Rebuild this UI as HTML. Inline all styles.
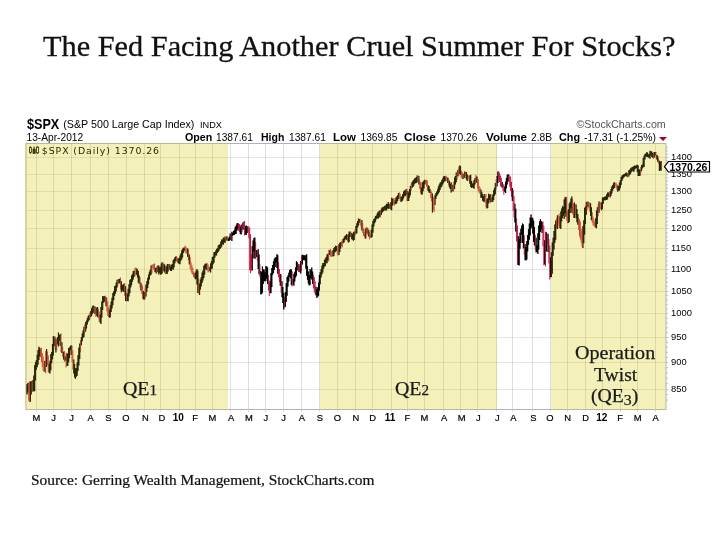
<!DOCTYPE html>
<html><head><meta charset="utf-8"><title>The Fed Facing Another Cruel Summer For Stocks?</title>
<style>
html,body{margin:0;padding:0;background:#fff}
#pg{will-change:transform;position:relative;width:720px;height:540px;overflow:hidden;background:#fff;font-family:"Liberation Sans",Arial,sans-serif;color:#000}
#pg span,#pg div{position:absolute;white-space:nowrap;line-height:1}
.ttl{left:43px;top:32.4px;font-family:"Liberation Serif",serif;font-size:28.8px;transform-origin:0 0;transform:scaleX(1.053);color:#111;-webkit-text-stroke:0.3px #111}
.src{left:31px;top:474px;font-family:"Liberation Serif",serif;font-size:14px;transform-origin:0 0;transform:scaleX(1.101);color:#111;-webkit-text-stroke:0.2px #111}
.band{top:143px;height:267px;background:rgba(215,205,25,0.30)}
.qe{font-family:"Liberation Serif",serif;font-size:18.4px;color:#1a1a1a;transform-origin:0 0;text-align:center;-webkit-text-stroke:0.25px #1a1a1a}
.qe small{font-size:0.76em}
.qe small.d3{font-size:0.8em;position:relative;top:0.19em}
.xl{top:413.2px;width:30px;text-align:center;font-size:9.4px;-webkit-text-stroke:0.2px #000}
.xl.b{-webkit-text-stroke:0;font-weight:bold;font-size:10px;top:412.7px}
.yl{left:671px;font-size:9.4px}
.h{font-size:10.2px}
.hb{font-size:10.5px;font-weight:bold;transform-origin:0 0}
.h{transform-origin:0 0}
</style></head><body>
<div id="pg">
<span class="ttl">The Fed Facing Another Cruel Summer For Stocks?</span>
<span style="left:26.5px;top:116.5px;font-size:14px;font-weight:bold;transform-origin:0 0;transform:scaleX(0.9)">$SPX</span>
<span style="left:63.3px;top:119px;font-size:10.7px">(S&amp;P 500 Large Cap Index)</span>
<span style="left:200px;top:120.5px;font-size:9.2px">INDX</span>
<span style="left:576.5px;top:118.5px;font-size:10.7px;color:#555">©StockCharts.com</span>
<span class="h" style="left:26.5px;top:132.5px">13-Apr-2012</span>
<span class="hb" style="left:184.5px;top:132px;transform:scaleX(1.02)">Open</span><span class="h" style="left:216px;top:132.5px">1387.61</span>
<span class="hb" style="left:261px;top:132px">High</span><span class="h" style="left:289px;top:132.5px">1387.61</span>
<span class="hb" style="left:332.7px;top:132px;transform:scaleX(1.09)">Low</span><span class="h" style="left:360.5px;top:132.5px">1369.85</span>
<span class="hb" style="left:404.4px;top:132px;transform:scaleX(1.11)">Close</span><span class="h" style="left:440.5px;top:132.5px">1370.26</span>
<span class="hb" style="left:485.6px;top:132px;transform:scaleX(1.105)">Volume</span><span class="h" style="left:531px;top:132.5px">2.8B</span>
<span class="hb" style="left:559px;top:132px;transform:scaleX(1.03)">Chg</span><span class="h" style="left:584px;top:132.5px;transform:scaleX(1.017)">-17.31 (-1.25%)</span>
<div style="left:658.5px;top:136.5px;width:0;height:0;border-left:4px solid transparent;border-right:4px solid transparent;border-top:4px solid #a0002c"></div>
<svg width="720" height="540" viewBox="0 0 720 540" style="position:absolute;left:0;top:0">
<rect x="26.0" y="143.5" width="640.0" height="266.0" fill="#fff"/>
<path d="M36.5 143.5V412.0M53.5 143.5V412.0M71.5 143.5V412.0M90.5 143.5V412.0M108.5 143.5V412.0M126.5 143.5V412.0M144.5 143.5V412.0M160.5 143.5V412.0M179.5 143.5V412.0M195.5 143.5V412.0M212.5 143.5V412.0M230.5 143.5V412.0M248.5 143.5V412.0M265.5 143.5V412.0M283.5 143.5V412.0M301.5 143.5V412.0M319.5 143.5V412.0M337.5 143.5V412.0M355.5 143.5V412.0M372.5 143.5V412.0M391.5 143.5V412.0M407.5 143.5V412.0M424.5 143.5V412.0M443.5 143.5V412.0M460.5 143.5V412.0M477.5 143.5V412.0M496.5 143.5V412.0M512.5 143.5V412.0M532.5 143.5V412.0M550.5 143.5V412.0M567.5 143.5V412.0M585.5 143.5V412.0M602.5 143.5V412.0M620.5 143.5V412.0M637.5 143.5V412.0M655.5 143.5V412.0" stroke="#000" stroke-opacity="0.125" stroke-width="1" fill="none"/>
<path d="M26.0 157.5H668.5M26.0 174.5H668.5M26.0 191.5H668.5M26.0 210.5H668.5M26.0 228.5H668.5M26.0 248.5H668.5M26.0 269.5H668.5M26.0 291.5H668.5M26.0 313.5H668.5M26.0 337.5H668.5M26.0 362.5H668.5M26.0 389.5H668.5" stroke="#000" stroke-opacity="0.105" stroke-width="1" fill="none"/>
<rect x="26.0" y="143.5" width="640.0" height="266.0" fill="none" stroke="#aeb2c0" stroke-width="1"/>
<path d="M666.0 400.1h2M666.0 394.5h2M666.0 389.5h2M666.0 383.6h2M666.0 378.2h2M666.0 372.9h2M666.0 367.7h2M666.0 362.5h2M666.0 357.4h2M666.0 352.3h2M666.0 347.3h2M666.0 342.3h2M666.0 337.5h2M666.0 332.6h2M666.0 327.8h2M666.0 323.0h2M666.0 318.3h2M666.0 313.5h2M666.0 309.0h2M666.0 304.4h2M666.0 299.9h2M666.0 295.4h2M666.0 291.5h2M666.0 286.6h2M666.0 282.2h2M666.0 277.9h2M666.0 273.6h2M666.0 269.5h2M666.0 265.2h2M666.0 261.0h2M666.0 256.9h2M666.0 252.8h2M666.0 248.5h2M666.0 244.8h2M666.0 240.8h2M666.0 236.8h2M666.0 232.9h2M666.0 228.5h2M666.0 225.2h2M666.0 221.4h2M666.0 217.6h2M666.0 213.8h2M666.0 210.5h2M666.0 206.4h2M666.0 202.7h2M666.0 199.1h2M666.0 195.5h2M666.0 191.5h2M666.0 188.3h2M666.0 184.8h2M666.0 181.3h2M666.0 177.8h2M666.0 174.5h2M666.0 171.0h2M666.0 167.6h2M666.0 164.2h2M666.0 160.8h2M666.0 157.5h2M666.0 154.2h2M666.0 150.9h2M666.0 147.7h2" stroke="#b9bdc9" stroke-width="1" fill="none"/>
<path d="M27.00 384.2V394.5M27.85 383.0V392.5M30.40 381.7V401.8M31.25 381.1V394.5M32.95 380.1V391.8M33.80 375.6V391.0M34.65 365.3V391.2M35.50 362.3V380.5M36.35 360.0V369.8M37.20 354.8V367.2M38.05 350.0V364.7M38.90 346.7V359.9M39.75 347.7V356.6M44.85 360.7V371.8M46.55 349.1V367.1M49.10 363.7V372.4M49.95 360.8V373.5M50.80 353.9V370.3M51.65 352.1V363.3M52.50 343.9V359.3M53.35 336.0V355.6M54.20 337.1V345.9M55.90 338.3V352.4M57.60 337.1V344.4M58.45 332.6V346.4M59.30 335.0V340.6M60.15 334.0V345.8M61.85 342.3V352.9M63.55 351.7V359.5M65.25 356.6V360.8M66.95 353.7V366.1M67.80 353.3V366.0M68.65 348.0V362.2M69.50 347.5V358.2M70.35 346.0V350.3M71.20 345.3V355.0M73.75 359.6V373.4M74.60 364.0V377.6M75.45 368.3V378.7M76.30 368.0V376.8M77.15 362.5V375.7M78.00 355.3V371.1M78.85 347.8V365.5M79.70 343.4V359.1M81.40 337.0V345.3M82.25 333.4V341.3M83.10 330.6V338.1M83.95 326.7V337.1M85.65 321.9V331.4M86.50 320.5V328.5M87.35 318.1V324.5M88.20 315.9V321.8M89.05 314.8V320.3M90.75 311.1V317.0M91.60 308.3V316.0M92.45 306.2V313.9M93.30 305.6V312.7M95.00 306.6V314.2M96.70 307.5V315.7M97.55 306.9V316.9M100.10 314.4V322.5M100.95 307.0V323.9M101.80 301.6V317.4M102.65 296.1V310.0M103.50 296.4V302.7M104.35 296.1V301.7M106.05 297.0V306.2M109.45 309.6V317.7M110.30 305.3V317.2M111.15 301.6V312.0M112.00 297.7V308.5M112.85 293.1V305.3M113.70 291.2V300.2M114.55 286.3V296.1M115.40 285.4V293.7M116.25 282.6V291.5M117.10 279.8V287.5M118.80 278.9V283.5M119.65 278.7V283.3M121.35 281.2V292.3M122.20 285.0V290.6M123.05 284.5V291.4M123.90 283.7V292.1M125.60 286.2V300.9M127.30 293.7V301.0M128.15 288.8V301.3M129.00 284.3V296.6M129.85 279.7V293.2M130.70 279.3V287.5M131.55 275.5V285.2M132.40 274.0V281.8M133.25 270.9V279.5M134.10 270.7V277.1M136.65 268.4V275.0M137.50 269.6V277.6M138.35 271.0V282.8M139.20 275.4V283.8M140.90 282.7V290.4M143.45 291.1V299.4M144.30 292.0V299.4M146.00 284.5V296.5M146.85 281.3V291.7M147.70 277.8V287.9M148.55 274.4V284.3M149.40 271.7V279.5M150.25 269.8V275.4M151.10 265.6V274.8M155.35 267.9V271.7M156.20 267.5V273.5M157.90 265.4V271.9M158.75 265.4V274.4M159.60 267.3V273.1M160.45 266.7V274.8M161.30 263.5V274.2M162.15 262.2V273.6M163.85 263.8V271.2M164.70 264.8V272.6M166.40 266.6V273.8M167.25 264.2V274.0M168.10 264.1V271.6M169.80 264.2V269.7M170.65 266.6V271.1M171.50 264.7V271.1M172.35 263.9V269.2M173.20 260.3V269.8M174.05 259.0V267.5M174.90 257.3V263.3M175.75 256.4V260.9M178.30 258.5V263.2M179.15 258.1V263.7M180.00 255.6V264.2M180.85 253.4V260.7M181.70 250.2V259.5M182.55 248.7V257.6M183.40 247.7V253.1M184.25 247.6V251.1M187.65 248.5V257.1M189.35 254.4V264.4M195.30 272.5V279.3M196.15 270.6V278.7M197.00 269.1V284.5M197.85 270.7V292.9M199.55 283.4V294.9M200.40 279.6V289.5M201.25 276.9V286.5M202.10 272.4V282.9M202.95 270.5V280.6M203.80 265.8V278.1M204.65 264.4V274.7M205.50 263.6V268.8M206.35 263.8V270.0M209.75 267.2V271.1M210.60 263.6V272.6M211.45 261.0V269.0M212.30 257.1V268.5M213.15 256.6V264.3M214.00 252.3V262.7M214.85 251.9V257.8M215.70 250.6V255.5M216.55 249.0V255.4M217.40 247.9V253.0M218.25 245.4V252.0M219.10 244.7V250.4M219.95 244.2V249.0M220.80 241.6V247.9M221.65 239.4V246.4M222.50 239.4V244.3M223.35 237.6V244.8M224.20 238.2V242.3M225.05 236.6V243.0M226.75 236.5V240.6M228.45 238.2V241.0M229.30 236.7V240.8M230.15 233.4V239.9M231.85 231.7V241.1M232.70 232.8V235.7M233.55 231.1V235.0M234.40 229.8V234.9M235.25 226.7V234.1M236.10 225.6V234.0M236.95 223.6V230.7M237.80 222.9V229.3M240.35 226.5V233.9M241.20 224.7V234.6M242.90 222.5V229.5M245.45 225.9V234.4M246.30 225.5V234.9M247.15 226.2V233.1M252.25 246.3V270.5M253.10 240.5V258.4M253.95 238.0V251.5M254.80 237.5V258.5M256.50 250.1V257.1M258.20 249.2V268.9M259.05 254.4V274.2M260.75 271.1V294.2M261.60 272.0V294.2M262.45 266.5V292.7M263.30 269.2V284.0M264.15 269.5V281.1M265.00 272.2V281.6M265.85 266.3V281.0M266.70 266.3V278.4M267.55 267.4V283.9M270.10 281.4V293.1M270.95 273.1V293.2M271.80 268.1V287.1M272.65 265.1V274.7M273.50 261.2V273.0M274.35 258.7V269.8M275.20 257.5V267.0M276.05 257.2V262.8M276.90 254.3V268.1M277.75 255.2V273.8M280.30 274.1V285.8M282.00 281.3V297.3M282.85 287.0V303.1M283.70 293.1V309.5M285.40 291.9V307.1M286.25 283.2V301.9M287.10 277.0V295.7M287.95 275.4V286.6M288.80 272.7V281.6M289.65 270.0V276.7M290.50 269.2V278.3M291.35 269.6V285.3M293.05 279.3V284.3M293.90 273.8V285.7M294.75 271.8V281.4M295.60 267.6V277.5M296.45 261.2V275.8M297.30 262.2V270.3M299.00 264.3V272.0M300.70 261.1V273.4M302.40 254.8V264.5M303.25 255.2V260.2M304.10 254.9V259.9M304.95 256.3V260.6M305.80 255.1V268.7M306.65 254.3V275.7M307.50 265.9V279.7M308.35 271.6V283.4M309.20 275.0V285.4M310.05 268.9V285.1M310.90 270.6V278.0M311.75 267.6V279.6M312.60 271.4V283.9M316.00 286.7V295.3M316.85 289.2V298.0M317.70 287.2V296.7M318.55 282.5V295.7M319.40 274.8V290.6M320.25 272.0V284.2M321.10 269.1V277.5M321.95 265.5V274.6M322.80 263.0V272.5M323.65 263.0V268.7M324.50 259.8V266.4M325.35 258.4V266.3M326.20 256.9V263.2M327.05 254.6V263.2M327.90 253.7V260.4M329.60 250.2V255.1M333.00 249.9V256.6M333.85 247.9V256.0M334.70 247.1V252.4M335.55 245.8V251.7M336.40 246.0V251.1M338.95 244.3V255.0M339.80 242.7V252.1M340.65 242.2V248.6M343.20 239.1V243.2M344.05 237.5V242.5M344.90 236.0V240.2M345.75 235.3V239.0M346.60 233.9V239.8M348.30 234.4V242.5M349.15 231.5V241.9M350.00 231.7V236.9M351.70 233.0V239.3M352.55 234.1V239.7M353.40 232.2V240.8M354.25 231.5V239.9M355.95 226.0V234.0M356.80 223.2V233.2M357.65 221.0V227.5M358.50 218.5V225.6M359.35 218.9V222.7M361.90 219.9V230.4M365.30 228.8V238.8M367.00 227.7V233.5M368.70 229.8V236.4M371.25 229.7V237.8M372.10 224.5V236.9M372.95 221.0V232.8M373.80 219.0V226.4M374.65 218.2V223.3M375.50 216.0V221.7M376.35 215.6V219.2M377.20 213.6V218.3M378.05 211.8V218.8M378.90 211.4V217.7M379.75 210.5V216.8M381.45 208.4V214.9M382.30 207.2V212.6M383.15 207.3V211.6M384.00 206.5V210.9M384.85 205.7V209.5M385.70 205.5V210.5M386.55 203.7V210.5M387.40 204.1V208.3M388.25 202.0V208.9M389.10 203.7V208.6M390.80 202.3V209.6M391.65 197.7V210.3M392.50 198.8V205.4M395.05 200.5V204.2M395.90 197.6V204.0M396.75 196.4V203.2M397.60 195.2V200.9M398.45 193.1V199.0M401.00 196.4V202.0M401.85 196.6V201.2M402.70 194.1V200.4M403.55 191.6V198.6M404.40 190.2V196.3M405.25 190.8V196.2M406.10 189.1V195.1M407.80 190.9V201.1M408.65 192.6V200.9M409.50 189.0V197.8M410.35 185.9V195.2M412.05 181.9V188.0M412.90 180.8V187.0M413.75 179.7V185.8M414.60 178.5V183.8M415.45 178.1V183.3M416.30 177.0V183.1M417.15 175.5V182.2M418.85 175.9V184.6M421.40 187.4V194.5M422.25 182.4V194.6M423.10 181.7V191.2M423.95 180.6V188.5M424.80 179.8V184.6M428.20 185.3V191.1M429.05 186.0V192.5M429.90 189.0V193.1M432.45 193.5V212.6M435.00 195.1V205.0M435.85 193.0V199.0M436.70 191.4V196.3M437.55 189.3V195.0M438.40 186.6V193.6M439.25 184.6V192.3M440.10 182.8V189.9M440.95 182.1V187.5M441.80 180.1V186.5M442.65 178.6V184.6M443.50 176.4V183.2M444.35 175.9V181.6M445.20 176.5V181.2M447.75 177.6V183.1M449.45 180.7V187.5M450.30 183.8V188.9M451.15 182.3V192.4M452.85 184.8V191.4M454.55 177.6V188.9M455.40 176.0V184.4M456.25 172.6V182.2M457.95 169.7V176.2M459.65 165.5V174.0M460.50 165.9V175.1M463.05 174.1V179.1M464.75 171.5V178.0M466.45 172.0V179.6M467.30 174.6V181.0M469.85 175.6V183.8M470.70 174.8V186.9M471.55 181.0V187.9M472.40 183.7V187.2M473.25 182.8V188.0M474.10 180.1V188.7M474.95 177.9V184.6M476.65 176.6V182.4M480.90 189.4V197.8M481.75 191.8V198.1M482.60 194.3V200.7M483.45 196.0V201.8M484.30 194.0V201.8M486.85 199.3V208.4M487.70 198.2V207.9M488.55 193.8V203.5M489.40 194.4V200.3M490.25 194.2V202.6M491.95 197.2V201.9M492.80 194.5V202.0M493.65 190.0V200.0M494.50 187.7V195.8M495.35 183.1V194.2M497.05 176.1V186.6M497.90 171.4V183.1M502.15 182.1V187.5M504.70 186.5V191.7M505.55 181.8V193.1M506.40 177.9V188.3M507.25 174.9V184.4M508.10 174.0V181.3M512.35 188.1V201.1M514.90 203.7V222.5M515.75 208.8V231.5M518.30 235.9V265.0M519.15 238.6V265.5M520.00 232.7V248.7M520.85 228.8V243.1M521.70 225.4V234.7M522.55 223.6V243.0M523.40 224.6V248.3M525.10 244.0V260.0M525.95 247.1V260.5M526.80 241.0V259.6M527.65 234.9V251.5M528.50 229.3V244.7M529.35 223.5V239.8M530.20 217.5V235.6M531.05 214.6V228.6M531.90 217.9V226.4M532.75 217.7V233.6M533.60 220.4V242.0M534.45 226.9V245.5M536.15 237.7V252.6M537.00 245.4V251.7M537.85 233.3V254.1M538.70 225.5V249.4M539.55 221.6V240.0M540.40 219.3V232.1M541.25 221.0V229.5M542.10 222.0V232.9M544.65 240.2V264.5M546.35 232.2V251.5M548.05 233.8V252.0M550.60 257.2V277.3M551.45 252.2V277.0M552.30 242.5V273.8M553.15 237.7V255.7M554.00 231.0V249.5M554.85 224.4V242.8M555.70 220.6V239.7M557.40 215.3V229.1M559.95 216.5V228.0M560.80 211.4V228.9M561.65 208.5V221.4M562.50 206.3V218.1M563.35 206.7V215.8M564.20 199.4V219.0M565.05 197.1V213.6M565.90 197.5V216.7M568.45 209.3V223.1M569.30 203.6V221.7M570.15 201.7V213.0M571.00 198.5V208.3M571.85 196.6V212.7M574.40 202.4V218.0M576.10 204.5V218.2M576.95 209.0V222.2M577.80 213.9V224.7M582.90 226.0V248.1M583.75 220.2V243.3M584.60 207.7V234.7M585.45 206.6V223.9M586.30 202.0V214.7M588.00 201.7V206.9M590.55 203.2V215.9M591.40 207.3V220.2M595.65 218.3V227.6M596.50 210.4V228.3M597.35 207.3V224.1M599.05 201.6V212.8M601.60 202.6V210.2M602.45 197.6V209.1M603.30 197.5V203.7M604.15 197.0V199.9M605.00 196.4V200.5M605.85 196.2V199.9M606.70 194.3V200.1M607.55 192.4V199.3M608.40 192.4V197.0M610.10 191.3V197.4M610.95 189.2V196.0M611.80 186.6V193.5M612.65 184.9V190.9M613.50 183.3V189.1M614.35 182.1V188.0M617.75 185.4V191.7M618.60 185.7V190.7M619.45 182.6V190.4M620.30 180.2V188.2M621.15 177.1V185.1M622.00 175.5V181.1M622.85 175.1V178.9M623.70 174.0V177.6M624.55 173.9V176.8M625.40 172.9V175.9M626.25 172.5V176.3M627.10 173.6V176.8M628.80 170.3V176.5M629.65 169.8V174.9M630.50 168.6V174.0M631.35 167.7V172.2M632.20 166.9V170.5M633.05 166.8V171.4M633.90 166.0V171.8M634.75 165.5V169.4M635.60 165.8V168.6M636.45 165.3V168.1M637.30 164.8V171.9M638.15 165.6V175.9M639.00 169.7V176.1M639.85 169.3V175.9M641.55 165.0V171.3M642.40 164.5V168.5M643.25 157.9V167.2M644.10 155.7V166.9M644.95 153.9V159.5M645.80 153.4V156.6M646.65 152.2V156.8M647.50 152.5V157.0M648.35 154.5V157.5M649.20 153.7V157.7M650.05 150.8V158.7M650.90 151.3V155.1M651.75 151.4V157.0M652.60 152.9V157.7M654.30 152.3V157.6M655.15 151.9V155.5M656.85 155.1V159.5M657.70 155.8V161.7M659.40 160.7V171.0M660.25 161.7V170.2M661.10 160.9V170.8" stroke="#050505" stroke-width="1.15" fill="none"/><path d="M28.70 382.2V400.8M29.55 381.4V402.1M32.10 380.9V390.1M40.60 348.7V357.0M41.45 347.7V362.1M42.30 353.0V367.1M43.15 356.3V370.9M44.00 362.4V371.8M45.70 350.9V373.3M47.40 351.4V365.0M48.25 355.3V372.2M55.05 336.0V349.6M56.75 339.9V350.2M61.00 333.3V352.1M62.70 346.9V356.9M64.40 351.0V361.9M66.10 352.6V367.6M72.05 345.7V362.2M72.90 350.3V369.6M80.55 340.1V352.4M84.80 324.1V333.4M89.90 312.4V319.4M94.15 305.9V312.7M95.85 310.3V317.0M98.40 308.8V318.5M99.25 311.6V321.8M105.20 295.6V302.9M106.90 298.1V311.5M107.75 301.6V316.0M108.60 307.3V317.0M117.95 279.6V285.5M120.50 277.5V289.5M124.75 283.1V295.9M126.45 292.4V301.7M134.95 267.8V276.4M135.80 267.7V274.8M140.05 277.2V287.7M141.75 284.1V294.1M142.60 285.5V298.7M145.15 287.4V299.4M151.95 264.8V273.4M152.80 264.5V268.4M153.65 264.0V269.9M154.50 263.4V272.3M157.05 266.0V272.7M163.00 262.5V268.7M165.55 266.3V274.2M168.95 264.2V268.7M176.60 256.1V261.7M177.45 257.6V262.4M185.10 245.5V252.6M185.95 246.7V253.3M186.80 248.0V253.8M188.50 249.2V260.5M190.20 257.2V269.0M191.05 262.4V271.5M191.90 264.9V273.7M192.75 267.5V274.7M193.60 271.5V277.1M194.45 273.0V278.0M198.70 278.7V293.8M207.20 262.8V270.7M208.05 264.2V272.5M208.90 266.2V271.9M225.90 236.8V241.2M227.60 236.5V240.8M231.00 234.8V239.3M238.65 223.7V230.8M239.50 224.1V232.0M242.05 223.9V232.4M243.75 221.5V230.0M244.60 221.0V235.5M248.00 226.8V231.6M248.85 226.3V238.4M249.70 227.7V270.3M250.55 234.2V273.3M251.40 254.5V270.5M255.65 242.0V259.0M257.35 250.5V260.5M259.90 264.2V276.7M268.40 274.9V290.5M269.25 280.4V296.1M278.60 262.4V277.4M279.45 269.0V282.2M281.15 274.6V292.6M284.55 297.1V307.4M292.20 271.5V286.4M298.15 263.9V270.6M299.85 266.3V272.3M301.55 255.3V271.1M313.45 274.7V288.4M314.30 277.0V292.3M315.15 281.2V294.2M328.75 249.8V261.4M330.45 248.8V256.5M331.30 250.6V256.8M332.15 252.0V256.5M337.25 245.6V254.6M338.10 247.7V255.7M341.50 241.2V246.1M342.35 239.3V247.4M347.45 235.1V241.2M350.85 231.5V237.3M355.10 229.1V235.8M360.20 218.7V225.2M361.05 220.0V227.3M362.75 223.2V233.2M363.60 228.4V236.0M364.45 232.4V236.9M366.15 227.1V238.3M367.85 227.8V235.3M369.55 231.9V239.3M370.40 234.6V237.7M380.60 210.1V217.3M389.95 203.7V209.0M393.35 197.9V204.6M394.20 198.4V205.8M399.30 192.3V198.9M400.15 193.7V200.9M406.95 188.9V201.3M411.20 183.7V190.9M418.00 175.4V180.8M419.70 179.8V189.0M420.55 182.2V193.1M425.65 180.1V183.5M426.50 179.9V186.3M427.35 180.5V190.4M430.75 190.2V198.2M431.60 191.7V201.3M433.30 197.3V210.2M434.15 196.6V212.0M446.05 175.6V180.7M446.90 176.9V181.2M448.60 178.3V185.4M452.00 188.0V190.6M453.70 181.7V191.3M457.10 171.4V180.0M458.80 166.6V176.4M461.35 170.5V177.7M462.20 171.9V179.1M463.90 173.1V178.5M465.60 172.1V176.0M468.15 175.9V178.8M469.00 175.3V181.0M475.80 174.6V182.7M477.50 176.6V188.5M478.35 179.2V191.3M479.20 186.1V192.8M480.05 187.4V194.2M485.15 194.6V202.9M486.00 194.0V207.4M491.10 194.1V202.1M496.20 179.0V189.7M498.75 171.3V179.3M499.60 172.9V182.0M500.45 175.5V186.3M501.30 177.8V187.2M503.00 185.0V190.8M503.85 184.1V194.7M508.95 174.6V182.0M509.80 175.5V186.8M510.65 176.8V191.1M511.50 181.9V196.8M513.20 189.7V210.8M514.05 195.8V217.5M516.60 218.4V241.5M517.45 225.3V264.9M524.25 235.3V254.6M535.30 234.9V250.0M542.95 221.4V246.5M543.80 225.6V265.2M545.50 231.7V266.4M547.20 234.3V244.0M548.90 238.9V263.6M549.75 245.5V279.5M556.55 218.4V228.7M558.25 215.8V224.8M559.10 213.6V228.4M566.75 196.6V220.8M567.60 210.9V223.3M572.70 199.4V214.5M573.55 203.6V218.0M575.25 203.9V214.4M578.65 217.6V230.0M579.50 219.1V236.7M580.35 221.5V239.6M581.20 228.8V242.9M582.05 231.1V246.6M587.15 201.2V210.1M588.85 202.9V208.4M589.70 202.2V211.6M592.25 212.1V222.7M593.10 216.7V225.7M593.95 219.4V225.5M594.80 221.6V227.2M598.20 204.1V216.1M599.90 201.7V208.4M600.75 202.1V209.5M609.25 192.0V196.5M615.20 183.2V185.8M616.05 182.5V188.3M616.90 184.1V190.2M627.95 172.3V177.4M640.70 166.9V175.2M653.45 152.1V158.8M656.00 151.9V157.7M658.55 158.5V163.7" stroke="#c4103c" stroke-width="1.0" fill="none"/>
</svg>
<svg width="12" height="10" viewBox="0 0 12 10" style="position:absolute;left:28px;top:145px"><path d="M2.400 1.200V8.800M6.100 1.500V8.800M9.500 1.200V8.800" stroke="#000" stroke-width="1.1" fill="none"/><rect x="1.500" y="2.600" width="1.900" height="4.800" fill="#fff" stroke="#000" stroke-width="0.9"/><rect x="4.900" y="4" width="2.400" height="4.600" fill="#000" stroke="#000" stroke-width="0.6"/><rect x="8.400" y="2.200" width="2.200" height="5.600" fill="#fff" stroke="#000" stroke-width="0.9"/></svg>
<div class="band" style="left:25.0px;width:203.0px"></div><div class="band" style="left:319.6px;width:177.2px"></div><div class="band" style="left:550.8px;width:115.70000000000005px"></div>
<svg width="720" height="540" viewBox="0 0 720 540" style="position:absolute;left:0;top:0;opacity:0.42"><path d="M27.00 384.2V394.5M27.85 383.0V392.5M30.40 381.7V401.8M31.25 381.1V394.5M32.95 380.1V391.8M33.80 375.6V391.0M34.65 365.3V391.2M35.50 362.3V380.5M36.35 360.0V369.8M37.20 354.8V367.2M38.05 350.0V364.7M38.90 346.7V359.9M39.75 347.7V356.6M44.85 360.7V371.8M46.55 349.1V367.1M49.10 363.7V372.4M49.95 360.8V373.5M50.80 353.9V370.3M51.65 352.1V363.3M52.50 343.9V359.3M53.35 336.0V355.6M54.20 337.1V345.9M55.90 338.3V352.4M57.60 337.1V344.4M58.45 332.6V346.4M59.30 335.0V340.6M60.15 334.0V345.8M61.85 342.3V352.9M63.55 351.7V359.5M65.25 356.6V360.8M66.95 353.7V366.1M67.80 353.3V366.0M68.65 348.0V362.2M69.50 347.5V358.2M70.35 346.0V350.3M71.20 345.3V355.0M73.75 359.6V373.4M74.60 364.0V377.6M75.45 368.3V378.7M76.30 368.0V376.8M77.15 362.5V375.7M78.00 355.3V371.1M78.85 347.8V365.5M79.70 343.4V359.1M81.40 337.0V345.3M82.25 333.4V341.3M83.10 330.6V338.1M83.95 326.7V337.1M85.65 321.9V331.4M86.50 320.5V328.5M87.35 318.1V324.5M88.20 315.9V321.8M89.05 314.8V320.3M90.75 311.1V317.0M91.60 308.3V316.0M92.45 306.2V313.9M93.30 305.6V312.7M95.00 306.6V314.2M96.70 307.5V315.7M97.55 306.9V316.9M100.10 314.4V322.5M100.95 307.0V323.9M101.80 301.6V317.4M102.65 296.1V310.0M103.50 296.4V302.7M104.35 296.1V301.7M106.05 297.0V306.2M109.45 309.6V317.7M110.30 305.3V317.2M111.15 301.6V312.0M112.00 297.7V308.5M112.85 293.1V305.3M113.70 291.2V300.2M114.55 286.3V296.1M115.40 285.4V293.7M116.25 282.6V291.5M117.10 279.8V287.5M118.80 278.9V283.5M119.65 278.7V283.3M121.35 281.2V292.3M122.20 285.0V290.6M123.05 284.5V291.4M123.90 283.7V292.1M125.60 286.2V300.9M127.30 293.7V301.0M128.15 288.8V301.3M129.00 284.3V296.6M129.85 279.7V293.2M130.70 279.3V287.5M131.55 275.5V285.2M132.40 274.0V281.8M133.25 270.9V279.5M134.10 270.7V277.1M136.65 268.4V275.0M137.50 269.6V277.6M138.35 271.0V282.8M139.20 275.4V283.8M140.90 282.7V290.4M143.45 291.1V299.4M144.30 292.0V299.4M146.00 284.5V296.5M146.85 281.3V291.7M147.70 277.8V287.9M148.55 274.4V284.3M149.40 271.7V279.5M150.25 269.8V275.4M151.10 265.6V274.8M155.35 267.9V271.7M156.20 267.5V273.5M157.90 265.4V271.9M158.75 265.4V274.4M159.60 267.3V273.1M160.45 266.7V274.8M161.30 263.5V274.2M162.15 262.2V273.6M163.85 263.8V271.2M164.70 264.8V272.6M166.40 266.6V273.8M167.25 264.2V274.0M168.10 264.1V271.6M169.80 264.2V269.7M170.65 266.6V271.1M171.50 264.7V271.1M172.35 263.9V269.2M173.20 260.3V269.8M174.05 259.0V267.5M174.90 257.3V263.3M175.75 256.4V260.9M178.30 258.5V263.2M179.15 258.1V263.7M180.00 255.6V264.2M180.85 253.4V260.7M181.70 250.2V259.5M182.55 248.7V257.6M183.40 247.7V253.1M184.25 247.6V251.1M187.65 248.5V257.1M189.35 254.4V264.4M195.30 272.5V279.3M196.15 270.6V278.7M197.00 269.1V284.5M197.85 270.7V292.9M199.55 283.4V294.9M200.40 279.6V289.5M201.25 276.9V286.5M202.10 272.4V282.9M202.95 270.5V280.6M203.80 265.8V278.1M204.65 264.4V274.7M205.50 263.6V268.8M206.35 263.8V270.0M209.75 267.2V271.1M210.60 263.6V272.6M211.45 261.0V269.0M212.30 257.1V268.5M213.15 256.6V264.3M214.00 252.3V262.7M214.85 251.9V257.8M215.70 250.6V255.5M216.55 249.0V255.4M217.40 247.9V253.0M218.25 245.4V252.0M219.10 244.7V250.4M219.95 244.2V249.0M220.80 241.6V247.9M221.65 239.4V246.4M222.50 239.4V244.3M223.35 237.6V244.8M224.20 238.2V242.3M225.05 236.6V243.0M226.75 236.5V240.6M228.45 238.2V241.0M229.30 236.7V240.8M230.15 233.4V239.9M231.85 231.7V241.1M232.70 232.8V235.7M233.55 231.1V235.0M234.40 229.8V234.9M235.25 226.7V234.1M236.10 225.6V234.0M236.95 223.6V230.7M237.80 222.9V229.3M240.35 226.5V233.9M241.20 224.7V234.6M242.90 222.5V229.5M245.45 225.9V234.4M246.30 225.5V234.9M247.15 226.2V233.1M252.25 246.3V270.5M253.10 240.5V258.4M253.95 238.0V251.5M254.80 237.5V258.5M256.50 250.1V257.1M258.20 249.2V268.9M259.05 254.4V274.2M260.75 271.1V294.2M261.60 272.0V294.2M262.45 266.5V292.7M263.30 269.2V284.0M264.15 269.5V281.1M265.00 272.2V281.6M265.85 266.3V281.0M266.70 266.3V278.4M267.55 267.4V283.9M270.10 281.4V293.1M270.95 273.1V293.2M271.80 268.1V287.1M272.65 265.1V274.7M273.50 261.2V273.0M274.35 258.7V269.8M275.20 257.5V267.0M276.05 257.2V262.8M276.90 254.3V268.1M277.75 255.2V273.8M280.30 274.1V285.8M282.00 281.3V297.3M282.85 287.0V303.1M283.70 293.1V309.5M285.40 291.9V307.1M286.25 283.2V301.9M287.10 277.0V295.7M287.95 275.4V286.6M288.80 272.7V281.6M289.65 270.0V276.7M290.50 269.2V278.3M291.35 269.6V285.3M293.05 279.3V284.3M293.90 273.8V285.7M294.75 271.8V281.4M295.60 267.6V277.5M296.45 261.2V275.8M297.30 262.2V270.3M299.00 264.3V272.0M300.70 261.1V273.4M302.40 254.8V264.5M303.25 255.2V260.2M304.10 254.9V259.9M304.95 256.3V260.6M305.80 255.1V268.7M306.65 254.3V275.7M307.50 265.9V279.7M308.35 271.6V283.4M309.20 275.0V285.4M310.05 268.9V285.1M310.90 270.6V278.0M311.75 267.6V279.6M312.60 271.4V283.9M316.00 286.7V295.3M316.85 289.2V298.0M317.70 287.2V296.7M318.55 282.5V295.7M319.40 274.8V290.6M320.25 272.0V284.2M321.10 269.1V277.5M321.95 265.5V274.6M322.80 263.0V272.5M323.65 263.0V268.7M324.50 259.8V266.4M325.35 258.4V266.3M326.20 256.9V263.2M327.05 254.6V263.2M327.90 253.7V260.4M329.60 250.2V255.1M333.00 249.9V256.6M333.85 247.9V256.0M334.70 247.1V252.4M335.55 245.8V251.7M336.40 246.0V251.1M338.95 244.3V255.0M339.80 242.7V252.1M340.65 242.2V248.6M343.20 239.1V243.2M344.05 237.5V242.5M344.90 236.0V240.2M345.75 235.3V239.0M346.60 233.9V239.8M348.30 234.4V242.5M349.15 231.5V241.9M350.00 231.7V236.9M351.70 233.0V239.3M352.55 234.1V239.7M353.40 232.2V240.8M354.25 231.5V239.9M355.95 226.0V234.0M356.80 223.2V233.2M357.65 221.0V227.5M358.50 218.5V225.6M359.35 218.9V222.7M361.90 219.9V230.4M365.30 228.8V238.8M367.00 227.7V233.5M368.70 229.8V236.4M371.25 229.7V237.8M372.10 224.5V236.9M372.95 221.0V232.8M373.80 219.0V226.4M374.65 218.2V223.3M375.50 216.0V221.7M376.35 215.6V219.2M377.20 213.6V218.3M378.05 211.8V218.8M378.90 211.4V217.7M379.75 210.5V216.8M381.45 208.4V214.9M382.30 207.2V212.6M383.15 207.3V211.6M384.00 206.5V210.9M384.85 205.7V209.5M385.70 205.5V210.5M386.55 203.7V210.5M387.40 204.1V208.3M388.25 202.0V208.9M389.10 203.7V208.6M390.80 202.3V209.6M391.65 197.7V210.3M392.50 198.8V205.4M395.05 200.5V204.2M395.90 197.6V204.0M396.75 196.4V203.2M397.60 195.2V200.9M398.45 193.1V199.0M401.00 196.4V202.0M401.85 196.6V201.2M402.70 194.1V200.4M403.55 191.6V198.6M404.40 190.2V196.3M405.25 190.8V196.2M406.10 189.1V195.1M407.80 190.9V201.1M408.65 192.6V200.9M409.50 189.0V197.8M410.35 185.9V195.2M412.05 181.9V188.0M412.90 180.8V187.0M413.75 179.7V185.8M414.60 178.5V183.8M415.45 178.1V183.3M416.30 177.0V183.1M417.15 175.5V182.2M418.85 175.9V184.6M421.40 187.4V194.5M422.25 182.4V194.6M423.10 181.7V191.2M423.95 180.6V188.5M424.80 179.8V184.6M428.20 185.3V191.1M429.05 186.0V192.5M429.90 189.0V193.1M432.45 193.5V212.6M435.00 195.1V205.0M435.85 193.0V199.0M436.70 191.4V196.3M437.55 189.3V195.0M438.40 186.6V193.6M439.25 184.6V192.3M440.10 182.8V189.9M440.95 182.1V187.5M441.80 180.1V186.5M442.65 178.6V184.6M443.50 176.4V183.2M444.35 175.9V181.6M445.20 176.5V181.2M447.75 177.6V183.1M449.45 180.7V187.5M450.30 183.8V188.9M451.15 182.3V192.4M452.85 184.8V191.4M454.55 177.6V188.9M455.40 176.0V184.4M456.25 172.6V182.2M457.95 169.7V176.2M459.65 165.5V174.0M460.50 165.9V175.1M463.05 174.1V179.1M464.75 171.5V178.0M466.45 172.0V179.6M467.30 174.6V181.0M469.85 175.6V183.8M470.70 174.8V186.9M471.55 181.0V187.9M472.40 183.7V187.2M473.25 182.8V188.0M474.10 180.1V188.7M474.95 177.9V184.6M476.65 176.6V182.4M480.90 189.4V197.8M481.75 191.8V198.1M482.60 194.3V200.7M483.45 196.0V201.8M484.30 194.0V201.8M486.85 199.3V208.4M487.70 198.2V207.9M488.55 193.8V203.5M489.40 194.4V200.3M490.25 194.2V202.6M491.95 197.2V201.9M492.80 194.5V202.0M493.65 190.0V200.0M494.50 187.7V195.8M495.35 183.1V194.2M497.05 176.1V186.6M497.90 171.4V183.1M502.15 182.1V187.5M504.70 186.5V191.7M505.55 181.8V193.1M506.40 177.9V188.3M507.25 174.9V184.4M508.10 174.0V181.3M512.35 188.1V201.1M514.90 203.7V222.5M515.75 208.8V231.5M518.30 235.9V265.0M519.15 238.6V265.5M520.00 232.7V248.7M520.85 228.8V243.1M521.70 225.4V234.7M522.55 223.6V243.0M523.40 224.6V248.3M525.10 244.0V260.0M525.95 247.1V260.5M526.80 241.0V259.6M527.65 234.9V251.5M528.50 229.3V244.7M529.35 223.5V239.8M530.20 217.5V235.6M531.05 214.6V228.6M531.90 217.9V226.4M532.75 217.7V233.6M533.60 220.4V242.0M534.45 226.9V245.5M536.15 237.7V252.6M537.00 245.4V251.7M537.85 233.3V254.1M538.70 225.5V249.4M539.55 221.6V240.0M540.40 219.3V232.1M541.25 221.0V229.5M542.10 222.0V232.9M544.65 240.2V264.5M546.35 232.2V251.5M548.05 233.8V252.0M550.60 257.2V277.3M551.45 252.2V277.0M552.30 242.5V273.8M553.15 237.7V255.7M554.00 231.0V249.5M554.85 224.4V242.8M555.70 220.6V239.7M557.40 215.3V229.1M559.95 216.5V228.0M560.80 211.4V228.9M561.65 208.5V221.4M562.50 206.3V218.1M563.35 206.7V215.8M564.20 199.4V219.0M565.05 197.1V213.6M565.90 197.5V216.7M568.45 209.3V223.1M569.30 203.6V221.7M570.15 201.7V213.0M571.00 198.5V208.3M571.85 196.6V212.7M574.40 202.4V218.0M576.10 204.5V218.2M576.95 209.0V222.2M577.80 213.9V224.7M582.90 226.0V248.1M583.75 220.2V243.3M584.60 207.7V234.7M585.45 206.6V223.9M586.30 202.0V214.7M588.00 201.7V206.9M590.55 203.2V215.9M591.40 207.3V220.2M595.65 218.3V227.6M596.50 210.4V228.3M597.35 207.3V224.1M599.05 201.6V212.8M601.60 202.6V210.2M602.45 197.6V209.1M603.30 197.5V203.7M604.15 197.0V199.9M605.00 196.4V200.5M605.85 196.2V199.9M606.70 194.3V200.1M607.55 192.4V199.3M608.40 192.4V197.0M610.10 191.3V197.4M610.95 189.2V196.0M611.80 186.6V193.5M612.65 184.9V190.9M613.50 183.3V189.1M614.35 182.1V188.0M617.75 185.4V191.7M618.60 185.7V190.7M619.45 182.6V190.4M620.30 180.2V188.2M621.15 177.1V185.1M622.00 175.5V181.1M622.85 175.1V178.9M623.70 174.0V177.6M624.55 173.9V176.8M625.40 172.9V175.9M626.25 172.5V176.3M627.10 173.6V176.8M628.80 170.3V176.5M629.65 169.8V174.9M630.50 168.6V174.0M631.35 167.7V172.2M632.20 166.9V170.5M633.05 166.8V171.4M633.90 166.0V171.8M634.75 165.5V169.4M635.60 165.8V168.6M636.45 165.3V168.1M637.30 164.8V171.9M638.15 165.6V175.9M639.00 169.7V176.1M639.85 169.3V175.9M641.55 165.0V171.3M642.40 164.5V168.5M643.25 157.9V167.2M644.10 155.7V166.9M644.95 153.9V159.5M645.80 153.4V156.6M646.65 152.2V156.8M647.50 152.5V157.0M648.35 154.5V157.5M649.20 153.7V157.7M650.05 150.8V158.7M650.90 151.3V155.1M651.75 151.4V157.0M652.60 152.9V157.7M654.30 152.3V157.6M655.15 151.9V155.5M656.85 155.1V159.5M657.70 155.8V161.7M659.40 160.7V171.0M660.25 161.7V170.2M661.10 160.9V170.8" stroke="#050505" stroke-width="1.15" fill="none"/></svg>
<span style="left:41.800px;top:146.400px;font-family:'DejaVu Sans',sans-serif;font-size:9.4px;letter-spacing:0.92px;color:#2b2905">$SPX (Daily) 1370.26</span>
<div class="qe" style="left:123px;top:379.5px;transform:scaleX(1.08)">QE<small>1</small></div>
<div class="qe" style="left:394.5px;top:379.5px;transform:scaleX(1.08)">QE<small>2</small></div>
<div class="qe" style="left:574.5px;top:344px;transform:scaleX(1.09)">Operation</div>
<div class="qe" style="left:593.9px;top:365.5px;transform:scaleX(1.065)">Twist</div>
<div class="qe" style="left:591.3px;top:387.3px;transform:scaleX(1.07)">(QE<small class="d3">3</small>)</div>
<span class="xl" style="left:21.5px">M</span><span class="xl" style="left:38.5px">J</span><span class="xl" style="left:56.7px">J</span><span class="xl" style="left:75.7px">A</span><span class="xl" style="left:93.3px">S</span><span class="xl" style="left:111.0px">O</span><span class="xl" style="left:130.5px">N</span><span class="xl" style="left:147.0px">D</span><span class="xl b" style="left:163.3px">10</span><span class="xl" style="left:180.0px">F</span><span class="xl" style="left:197.3px">M</span><span class="xl" style="left:216.2px">A</span><span class="xl" style="left:234.0px">M</span><span class="xl" style="left:250.8px">J</span><span class="xl" style="left:268.6px">J</span><span class="xl" style="left:287.0px">A</span><span class="xl" style="left:304.9px">S</span><span class="xl" style="left:322.3px">O</span><span class="xl" style="left:341.0px">N</span><span class="xl" style="left:357.7px">D</span><span class="xl b" style="left:375.0px">11</span><span class="xl" style="left:392.3px">F</span><span class="xl" style="left:409.3px">M</span><span class="xl" style="left:429.2px">A</span><span class="xl" style="left:446.7px">M</span><span class="xl" style="left:463.3px">J</span><span class="xl" style="left:482.3px">J</span><span class="xl" style="left:498.3px">A</span><span class="xl" style="left:518.3px">S</span><span class="xl" style="left:535.0px">O</span><span class="xl" style="left:552.7px">N</span><span class="xl" style="left:570.7px">D</span><span class="xl b" style="left:586.7px">12</span><span class="xl" style="left:605.0px">F</span><span class="xl" style="left:622.7px">M</span><span class="xl" style="left:640.7px">A</span>
<span class="yl" style="top:152.0px">1400</span><span class="yl" style="top:169.0px">1350</span><span class="yl" style="top:186.0px">1300</span><span class="yl" style="top:205.0px">1250</span><span class="yl" style="top:223.0px">1200</span><span class="yl" style="top:243.0px">1150</span><span class="yl" style="top:264.0px">1100</span><span class="yl" style="top:286.0px">1050</span><span class="yl" style="top:308.0px">1000</span><span class="yl" style="top:332.0px">950</span><span class="yl" style="top:357.0px">900</span><span class="yl" style="top:384.0px">850</span>
<svg width="50" height="14" viewBox="0 0 50 14" style="position:absolute;left:663px;top:160px"><path d="M1.500 6.700L5.500 1.500H46.500V12H5.500Z" fill="#fff" stroke="#000" stroke-width="1.200"/></svg>
<span style="left:669.5px;top:161.700px;font-size:10.5px;font-weight:bold">1370.26</span>
<span class="src">Source: Gerring Wealth Management, StockCharts.com</span>
</div>
</body></html>
